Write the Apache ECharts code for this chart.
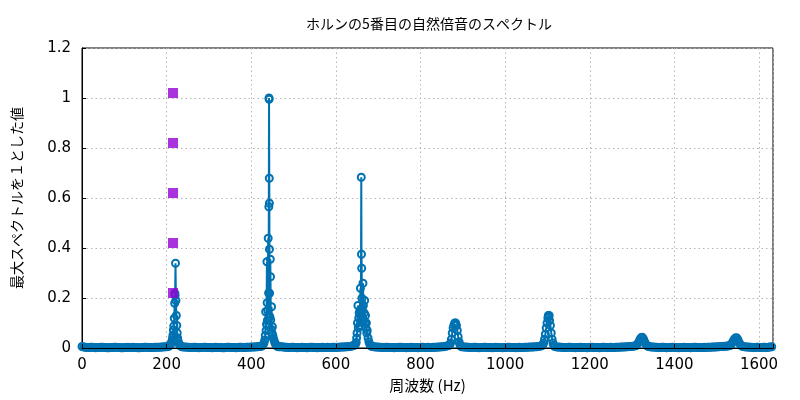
<!DOCTYPE html>
<html>
<head>
<meta charset="utf-8">
<script src="https://cdn.jsdelivr.net/npm/echarts@6/dist/echarts.min.js"></script>
<style>html,body{margin:0;padding:0;background:#fff}#c{width:800px;height:400px}</style>
</head>
<body>
<div id="c"></div>
<script>
var titleText = 'ホルンの5番目の自然倍音のスペクトル';
var xName = '周波数 (Hz)';
var yName = '最大スペクトルを１とした値';

// spectrum segments: frequency (Hz) and normalized amplitude
var fA = [0,4,8,12,16,20,24,28,32,36,40,44,48,52,56,60,64,68,72,76,80,84,88,92,96,100,104,108,112,116,120,124,128,132,136,140,144,148,152,156,160,164,168,172,176,180,184,188,192,196,200];
var aA = [0.006,0.004,0.003,0.002,0.002,0.003,0.003,0.002,0.001,0.002, 0.002,0.003,0.003,0.002,0.002,0.001,0.001,0.002,0.002,0.003, 0.003,0.002,0.002,0.001,0.001,0.002,0.002,0.003,0.002,0.002, 0.003,0.002,0.002,0.001,0.001,0.002,0.002,0.003,0.003,0.002, 0.002,0.002,0.002,0.003,0.003,0.003,0.003,0.004,0.004,0.005, 0.005];

var fP1 = [204,207,209,211,213,214,215,216,217,218,219,219.5,220,221,222,223,224,225,226,227,229,231,233,236];
var aP1 = [0.006,0.009,0.013,0.02,0.03,0.04,0.052,0.072,0.088,0.119,0.179,0.219,0.21,0.339,0.19,0.13,0.09,0.06,0.04,0.028,0.018,0.012,0.008,0.005];

var fB = [240,244,248,252,256,260,264,268,272,276,280,284,288,292,296,300,304,308,312,316,320,324,328,332,336,340,344,348,352,356,360,364,368,372,376,380,384,388,392,396,400,404,408,412,416,420,424];
var aB = [0.004,0.004,0.003,0.003,0.002,0.002,0.003,0.003,0.002,0.001, 0.002,0.002,0.003,0.003,0.002,0.002,0.002,0.001,0.002,0.003, 0.002,0.002,0.002,0.001,0.001,0.002,0.003,0.003,0.002,0.002, 0.002,0.001,0.002,0.003,0.003,0.002,0.002,0.003,0.003,0.003, 0.004,0.004,0.004,0.005,0.005,0.006,0.007];

var fP2 = [426,428,430,432,433,434,435,436,437,437.5,438,439,440,441,441.5,442,442.3,442.6,442.8,443,443.3,444,445,445.5,446,447,448,449,450,451,452,454,456,458,460,462,465];
var aP2 = [0.009,0.013,0.02,0.032,0.05,0.145,0.07,0.095,0.345,0.181,0.11,0.15,0.439,0.22,0.565,1.0,0.995,0.679,0.579,0.395,0.219,0.125,0.355,0.285,0.112,0.075,0.165,0.06,0.085,0.05,0.04,0.03,0.02,0.014,0.009,0.006,0.005];

var fC = [468,472,476,480,484,488,492,496,500,504,508,512,516,520,524,528,532,536,540,544,548,552,556,560,564,568,572,576,580,584,588,592,596,600,604,608,612,616,620,624,628,632,636,640,644];
var aC = [0.005,0.005,0.004,0.003,0.003,0.002,0.002,0.003,0.003,0.002, 0.001,0.002,0.002,0.003,0.002,0.002,0.001,0.002,0.003,0.003, 0.002,0.002,0.001,0.002,0.002,0.003,0.002,0.002,0.003,0.002, 0.002,0.003,0.003,0.002,0.003,0.003,0.004,0.004,0.004,0.005, 0.005,0.006,0.007,0.009,0.011];

var fP3 = [646,648,649,650,651,652,653,654,655,656,657,658,659,660,660.5,661,661.5,662,663,664,665,666,667,668,669,670,671,672,673,674,676,678,680,682,684,687];
var aP3 = [0.014,0.022,0.04,0.06,0.1,0.17,0.08,0.12,0.14,0.09,0.15,0.239,0.13,0.683,0.375,0.319,0.199,0.16,0.12,0.259,0.17,0.11,0.14,0.19,0.1,0.13,0.08,0.1,0.06,0.07,0.04,0.025,0.015,0.01,0.007,0.006];

var fD = [690,694,698,702,706,710,714,718,722,726,730,734,738,742,746,750,754,758,762,766,770,774,778,782,786,790,794,798,802,806,810,814,818,822,826,830,834,838,842,846,850,854,858,862,866];
var aD = [0.005,0.004,0.004,0.003,0.003,0.002,0.002,0.003,0.003,0.002, 0.002,0.002,0.001,0.002,0.002,0.003,0.003,0.002,0.002,0.001, 0.002,0.002,0.003,0.002,0.002,0.002,0.001,0.002,0.003,0.003, 0.002,0.002,0.003,0.002,0.002,0.003,0.003,0.003,0.004,0.004, 0.005,0.005,0.006,0.008,0.01];

var fP4 = [869,871,873,875,877,879,881,882,883,885,887,889,891,893,895,897];
var aP4 = [0.012,0.02,0.035,0.06,0.08,0.092,0.1,0.098,0.1,0.09,0.07,0.045,0.025,0.014,0.008,0.005];

var fE = [902,906,910,914,918,922,926,930,934,938,942,946,950,954,958,962,966,970,974,978,982,986,990,994,998,1002,1006,1010,1014,1018,1022,1026,1030,1034,1038,1042,1046,1050,1054,1058,1062,1066,1070,1074,1078,1082,1086];
var aE = [0.004,0.004,0.003,0.003,0.002,0.002,0.003,0.003,0.002,0.001, 0.002,0.002,0.003,0.003,0.002,0.002,0.002,0.001,0.002,0.003, 0.002,0.002,0.002,0.001,0.002,0.002,0.003,0.003,0.002,0.002, 0.002,0.001,0.002,0.003,0.002,0.002,0.003,0.003,0.003,0.004, 0.004,0.004,0.005,0.005,0.006,0.007,0.009];

var fP5 = [1089,1091,1093,1095,1097,1099,1101,1102,1103,1104,1105,1107,1109,1111,1113,1115,1117];
var aP5 = [0.012,0.02,0.035,0.055,0.08,0.1,0.12,0.13,0.125,0.13,0.11,0.09,0.06,0.035,0.02,0.01,0.006];

var fF = [1122,1126,1130,1134,1138,1142,1146,1150,1154,1158,1162,1166,1170,1174,1178,1182,1186,1190,1194,1198,1202,1206,1210,1214,1218,1222,1226,1230,1234,1238,1242,1246,1250,1254,1258,1262,1266,1270,1274,1278,1282,1286,1290,1294,1298,1302,1306];
var aF = [0.004,0.004,0.003,0.003,0.002,0.002,0.002,0.003,0.003,0.002, 0.002,0.001,0.002,0.002,0.003,0.002,0.002,0.002,0.001,0.002, 0.003,0.003,0.002,0.002,0.002,0.001,0.002,0.003,0.003,0.002, 0.002,0.002,0.003,0.002,0.002,0.003,0.003,0.003,0.004,0.004, 0.004,0.005,0.005,0.006,0.006,0.007,0.008];

var fP6 = [1310,1313,1316,1319,1322,1324,1327,1330,1333,1336,1339];
var aP6 = [0.01,0.016,0.025,0.036,0.042,0.043,0.036,0.024,0.014,0.008,0.006];

var fG = [1342,1346,1350,1354,1358,1362,1366,1370,1374,1378,1382,1386,1390,1394,1398,1402,1406,1410,1414,1418,1422,1426,1430,1434,1438,1442,1446,1450,1454,1458,1462,1466,1470,1474,1478,1482,1486,1490,1494,1498,1502,1506,1510,1514,1518,1522,1526];
var aG = [0.005,0.004,0.004,0.003,0.003,0.002,0.002,0.003,0.003,0.002, 0.001,0.002,0.002,0.003,0.003,0.002,0.002,0.001,0.002,0.002, 0.003,0.002,0.002,0.002,0.001,0.002,0.003,0.003,0.002,0.002, 0.002,0.002,0.003,0.002,0.003,0.003,0.003,0.004,0.004,0.004, 0.005,0.005,0.006,0.006,0.007,0.007,0.008];

var fP7 = [1529,1532,1535,1538,1541,1544,1547,1550,1553,1556,1559,1562];
var aP7 = [0.009,0.01,0.016,0.025,0.034,0.04,0.041,0.034,0.022,0.013,0.008,0.006];

var fH = [1566,1570,1574,1578,1582,1586,1590,1594,1598,1602,1606,1610,1614,1618,1622,1626,1630];
var aH = [0.005,0.004,0.004,0.003,0.003,0.002,0.002,0.003,0.003,0.002, 0.002,0.003,0.003,0.002,0.003,0.004,0.005];

// purple square markers
var markFreq = [215, 215, 215, 215, 215];
var markVal = [1.02, 0.82, 0.62, 0.42, 0.22];

// axes
var xMin = 0, xMax = 1633, xStep = 200;
var yMin = 0, yMax = 1.2, yStep = 0.2;

var freq = [].concat(fA, fP1, fB, fP2, fC, fP3, fD, fP4, fE, fP5, fF, fP6, fG, fP7, fH);
var amp = [].concat(aA, aP1, aB, aP2, aC, aP3, aD, aP4, aE, aP5, aF, aP6, aG, aP7, aH);
var spec = freq.map(function (f, i) { return [f, amp[i]]; });
var marks = markFreq.map(function (f, i) { return [f, markVal[i]]; });

var latin = "'DejaVu Sans', 'Noto Sans CJK JP', sans-serif";
var cjk = "'Noto Sans CJK JP', sans-serif";
var gridLine = { show: true, lineStyle: { color: '#b4b4b4', width: 1, type: [1.5, 3] } };

var chart = echarts.init(document.getElementById('c'), null, { renderer: 'canvas' });
chart.setOption({
  animation: false,
  backgroundColor: '#ffffff',
  title: {
    text: titleText, left: 424, top: 12, textAlign: 'center',
    textStyle: { fontFamily: cjk, fontSize: 14, fontWeight: 'normal', color: '#000' }
  },
  grid: { left: 82, right: 27, top: 48, bottom: 52, show: true, borderColor: '#000', borderWidth: 1, backgroundColor: 'transparent' },
  xAxis: [
    {
      type: 'value', min: xMin, max: xMax, interval: xStep,
      name: xName, nameLocation: 'middle', nameGap: 30,
      nameTextStyle: { fontFamily: cjk, fontSize: 15, color: '#000' },
      axisLine: { show: false }, axisTick: { show: false },
      axisLabel: { show: true, margin: 10, showMaxLabel: false, fontFamily: latin, fontSize: 15, color: '#000',
        formatter: function (v) { return String(v); } },
      splitLine: gridLine
    },
    {
      type: 'value', min: xMin, max: xMax, interval: xStep, position: 'bottom', z: 6,
      axisLine: { show: true, onZero: false, lineStyle: { color: '#000', width: 1 } },
      axisTick: { show: true, inside: true, length: 4, lineStyle: { color: '#000' } },
      axisLabel: { show: false }, splitLine: { show: false }
    }
  ],
  yAxis: {
    type: 'value', min: yMin, max: yMax, interval: yStep,
    name: yName, nameLocation: 'middle', nameRotate: 90, nameGap: 58,
    nameTextStyle: { fontFamily: cjk, fontSize: 14, color: '#000' },
    axisLine: { show: true, lineStyle: { color: '#000', width: 1 } },
    axisTick: { show: true, inside: true, length: 4, lineStyle: { color: '#000' } },
    axisLabel: { margin: 11, fontFamily: latin, fontSize: 15, color: '#000' },
    splitLine: gridLine
  },
  series: [
    {
      type: 'line', xAxisIndex: 0, data: spec, clip: false,
      symbol: 'circle', symbolSize: 7, showAllSymbol: true,
      lineStyle: { color: '#0072b2', width: 2 },
      itemStyle: { color: 'rgba(0,0,0,0)', borderColor: '#0072b2', borderWidth: 2 },
      z: 2
    },
    {
      type: 'scatter', xAxisIndex: 0, data: marks, clip: false,
      symbol: 'rect', symbolSize: 10,
      itemStyle: { color: '#9400d3' },
      z: 3
    }
  ]
});
</script>
</body>
</html>
